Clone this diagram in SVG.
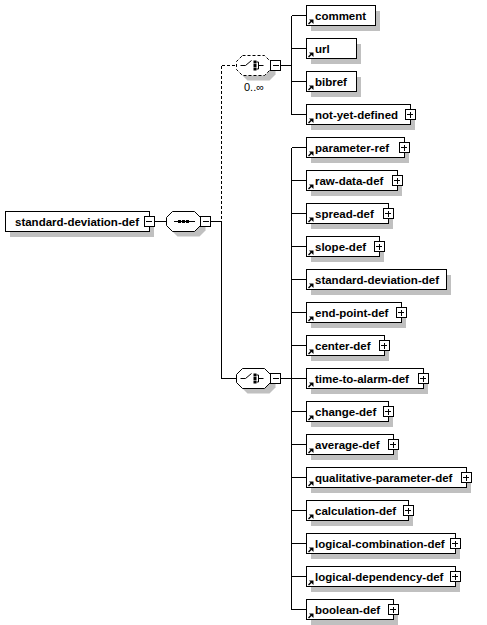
<svg xmlns="http://www.w3.org/2000/svg" xmlns:xlink="http://www.w3.org/1999/xlink" width="487" height="625" viewBox="0 0 487 625">
<style>
.bg{fill:#fff}
.box{fill:#fff;stroke:#000;stroke-width:1;shape-rendering:crispEdges}
.sh{fill:#c0c0c0;shape-rendering:crispEdges}
.t{font-family:"Liberation Sans",Arial,sans-serif;font-weight:bold;font-size:11.5px;fill:#000}
.lbl{font-family:"Liberation Sans",Arial,sans-serif;font-size:11px;fill:#000}
.ln{stroke:#000;stroke-width:1;fill:none;shape-rendering:crispEdges}
.dash{stroke-dasharray:3,2}
.oct{fill:#fff;stroke:#000;stroke-width:1}
</style>
<defs>
<g id="plus"><rect x="-5" y="-5" width="10" height="10" fill="#fff" stroke="#000" shape-rendering="crispEdges"/><path d="M-3,0H3M0,-3V3" stroke="#000" shape-rendering="crispEdges"/></g>
<g id="minus"><rect x="-5" y="-5" width="10" height="10" fill="#fff" stroke="#000" shape-rendering="crispEdges"/><path d="M-3,0H3" stroke="#000" shape-rendering="crispEdges"/></g>
<g id="arr"><path d="M2.5,8.5L5.5,5.5" stroke="#000" stroke-width="1.5"/><path d="M3,4L7.5,4L7.5,8.5Z" fill="#000"/></g>
<polygon id="octs" points="6,0 28,0 34,6 34,14 28,20 6,20 0,14 0,6"/>
<g id="choiceIcon" fill="#000"><path d="M4,0H9L15,-5" stroke="#000" fill="none"/><rect x="17" y="-5" width="3" height="3"/><rect x="17" y="-1.5" width="3" height="3"/><rect x="17" y="2" width="3" height="3"/><path d="M20,-3.5H22V3.5H20M22,0H27" stroke="#000" fill="none"/></g>
</defs>
<rect class="bg" x="0" y="0" width="487" height="625"/>

<g id="connectors" class="ln">
<path d="M154,221.5H166.5"/>
<path d="M210.5,221.5H221.5"/>
<path class="dash" d="M221.5,65.5V221.5"/>
<path d="M221.5,221.5V378.5"/>
<path class="dash" d="M221.5,65.5H236.5"/>
<path d="M221.5,378.5H236.5"/>
<path d="M280.5,65.5H291.5"/>
<path d="M280.5,378.5H291.5"/>
<path d="M291.5,15.5V114.5"/>
<path d="M291.5,147.5V609.5"/>
<path d="M291.5,15.5H306.5M291.5,48.5H306.5M291.5,81.5H306.5M291.5,114.5H306.5"/>
<path d="M291.5,147.5H306.5M291.5,180.5H306.5M291.5,213.5H306.5M291.5,246.5H306.5M291.5,279.5H306.5M291.5,312.5H306.5M291.5,345.5H306.5M291.5,378.5H306.5M291.5,411.5H306.5M291.5,444.5H306.5M291.5,477.5H306.5M291.5,510.5H306.5M291.5,543.5H306.5M291.5,576.5H306.5M291.5,609.5H306.5"/>
</g>

<g id="root">
<rect class="sh" x="10" y="216.5" width="144" height="20"/>
<rect class="box" x="5.5" y="211.5" width="143.5" height="20"/>
<text class="t" x="15" y="225.5">standard-deviation-def</text>
<use xlink:href="#minus" href="#minus" x="149" y="221.5"/>
</g>

<g id="sequence">
<use xlink:href="#octs" href="#octs" x="171.5" y="216.5" fill="#c0c0c0"/>
<use xlink:href="#octs" href="#octs" x="166.5" y="211.5" class="oct"/>
<path d="M174,221.5H195" stroke="#000" shape-rendering="crispEdges"/>
<rect x="178" y="220" width="3" height="3" fill="#000"/><rect x="182" y="220" width="3" height="3" fill="#000"/><rect x="186" y="220" width="3" height="3" fill="#000"/>
<use xlink:href="#minus" href="#minus" x="205.5" y="221.5"/>
</g>

<g id="choice-optional">
<use xlink:href="#octs" href="#octs" x="241.5" y="60.5" fill="#c0c0c0"/>
<use xlink:href="#octs" href="#octs" x="236.5" y="55.5" class="oct" stroke-dasharray="3,2"/>
<use xlink:href="#choiceIcon" href="#choiceIcon" x="236.5" y="65.5"/>
<use xlink:href="#minus" href="#minus" x="275.5" y="65.5"/>
<text class="lbl" x="254" y="91" text-anchor="middle">0..∞</text>
</g>

<g id="choice">
<use xlink:href="#octs" href="#octs" x="241.5" y="373.5" fill="#c0c0c0"/>
<use xlink:href="#octs" href="#octs" x="236.5" y="368.5" class="oct"/>
<use xlink:href="#choiceIcon" href="#choiceIcon" x="236.5" y="378.5"/>
<use xlink:href="#minus" href="#minus" x="275.5" y="378.5"/>
</g>

<g id="comment"><rect class="sh" x="311" y="10.5" width="69" height="20"/><rect class="box" x="306.5" y="5.5" width="68.5" height="20"/><use xlink:href="#arr" href="#arr" x="306" y="15.5"/><text class="t" x="315" y="19.5">comment</text></g>
<g id="url"><rect class="sh" x="311" y="43.5" width="50" height="20"/><rect class="box" x="306.5" y="38.5" width="49.5" height="20"/><use xlink:href="#arr" href="#arr" x="306" y="48.5"/><text class="t" x="315" y="52.5">url</text></g>
<g id="bibref"><rect class="sh" x="311" y="76.5" width="50" height="20"/><rect class="box" x="306.5" y="71.5" width="49.5" height="20"/><use xlink:href="#arr" href="#arr" x="306" y="81.5"/><text class="t" x="315" y="85.5">bibref</text></g>
<g id="not-yet-defined"><rect class="sh" x="311" y="109.5" width="104" height="20"/><rect class="box" x="306.5" y="104.5" width="103.5" height="20"/><use xlink:href="#arr" href="#arr" x="306" y="114.5"/><text class="t" x="315" y="118.5">not-yet-defined</text><use xlink:href="#plus" href="#plus" x="410" y="114.5"/></g>

<g id="parameter-ref"><rect class="sh" x="311" y="142.5" width="98" height="20"/><rect class="box" x="306.5" y="137.5" width="97.5" height="20"/><use xlink:href="#arr" href="#arr" x="306" y="147.5"/><text class="t" x="315" y="151.5">parameter-ref</text><use xlink:href="#plus" href="#plus" x="404" y="147.5"/></g>
<g id="raw-data-def"><rect class="sh" x="311" y="175.5" width="91" height="20"/><rect class="box" x="306.5" y="170.5" width="90.5" height="20"/><use xlink:href="#arr" href="#arr" x="306" y="180.5"/><text class="t" x="315" y="184.5">raw-data-def</text><use xlink:href="#plus" href="#plus" x="397" y="180.5"/></g>
<g id="spread-def"><rect class="sh" x="311" y="208.5" width="82" height="20"/><rect class="box" x="306.5" y="203.5" width="81.5" height="20"/><use xlink:href="#arr" href="#arr" x="306" y="213.5"/><text class="t" x="315" y="217.5">spread-def</text><use xlink:href="#plus" href="#plus" x="388" y="213.5"/></g>
<g id="slope-def"><rect class="sh" x="311" y="241.5" width="73" height="20"/><rect class="box" x="306.5" y="236.5" width="72.5" height="20"/><use xlink:href="#arr" href="#arr" x="306" y="246.5"/><text class="t" x="315" y="250.5">slope-def</text><use xlink:href="#plus" href="#plus" x="379" y="246.5"/></g>
<g id="standard-deviation-def"><rect class="sh" x="311" y="274.5" width="140" height="20"/><rect class="box" x="306.5" y="269.5" width="139.5" height="20"/><use xlink:href="#arr" href="#arr" x="306" y="279.5"/><text class="t" x="315" y="283.5">standard-deviation-def</text></g>
<g id="end-point-def"><rect class="sh" x="311" y="307.5" width="95" height="20"/><rect class="box" x="306.5" y="302.5" width="94.5" height="20"/><use xlink:href="#arr" href="#arr" x="306" y="312.5"/><text class="t" x="315" y="316.5">end-point-def</text><use xlink:href="#plus" href="#plus" x="401" y="312.5"/></g>
<g id="center-def"><rect class="sh" x="311" y="340.5" width="78" height="20"/><rect class="box" x="306.5" y="335.5" width="77.5" height="20"/><use xlink:href="#arr" href="#arr" x="306" y="345.5"/><text class="t" x="315" y="349.5">center-def</text><use xlink:href="#plus" href="#plus" x="384" y="345.5"/></g>
<g id="time-to-alarm-def"><rect class="sh" x="311" y="373.5" width="117" height="20"/><rect class="box" x="306.5" y="368.5" width="116.5" height="20"/><use xlink:href="#arr" href="#arr" x="306" y="378.5"/><text class="t" x="315" y="382.5">time-to-alarm-def</text><use xlink:href="#plus" href="#plus" x="423" y="378.5"/></g>
<g id="change-def"><rect class="sh" x="311" y="406.5" width="82" height="20"/><rect class="box" x="306.5" y="401.5" width="81.5" height="20"/><use xlink:href="#arr" href="#arr" x="306" y="411.5"/><text class="t" x="315" y="415.5">change-def</text><use xlink:href="#plus" href="#plus" x="388" y="411.5"/></g>
<g id="average-def"><rect class="sh" x="311" y="439.5" width="87" height="20"/><rect class="box" x="306.5" y="434.5" width="86.5" height="20"/><use xlink:href="#arr" href="#arr" x="306" y="444.5"/><text class="t" x="315" y="448.5">average-def</text><use xlink:href="#plus" href="#plus" x="393" y="444.5"/></g>
<g id="qualitative-parameter-def"><rect class="sh" x="311" y="472.5" width="160" height="20"/><rect class="box" x="306.5" y="467.5" width="159.5" height="20"/><use xlink:href="#arr" href="#arr" x="306" y="477.5"/><text class="t" x="315" y="481.5">qualitative-parameter-def</text><use xlink:href="#plus" href="#plus" x="466" y="477.5"/></g>
<g id="calculation-def"><rect class="sh" x="311" y="505.5" width="102" height="20"/><rect class="box" x="306.5" y="500.5" width="101.5" height="20"/><use xlink:href="#arr" href="#arr" x="306" y="510.5"/><text class="t" x="315" y="514.5">calculation-def</text><use xlink:href="#plus" href="#plus" x="408" y="510.5"/></g>
<g id="logical-combination-def"><rect class="sh" x="311" y="538.5" width="149" height="20"/><rect class="box" x="306.5" y="533.5" width="148.5" height="20"/><use xlink:href="#arr" href="#arr" x="306" y="543.5"/><text class="t" x="315" y="547.5">logical-combination-def</text><use xlink:href="#plus" href="#plus" x="455" y="543.5"/></g>
<g id="logical-dependency-def"><rect class="sh" x="311" y="571.5" width="149" height="20"/><rect class="box" x="306.5" y="566.5" width="148.5" height="20"/><use xlink:href="#arr" href="#arr" x="306" y="576.5"/><text class="t" x="315" y="580.5">logical-dependency-def</text><use xlink:href="#plus" href="#plus" x="455" y="576.5"/></g>
<g id="boolean-def"><rect class="sh" x="311" y="604.5" width="87" height="20"/><rect class="box" x="306.5" y="599.5" width="86.5" height="20"/><use xlink:href="#arr" href="#arr" x="306" y="609.5"/><text class="t" x="315" y="613.5">boolean-def</text><use xlink:href="#plus" href="#plus" x="393" y="609.5"/></g>
</svg>
